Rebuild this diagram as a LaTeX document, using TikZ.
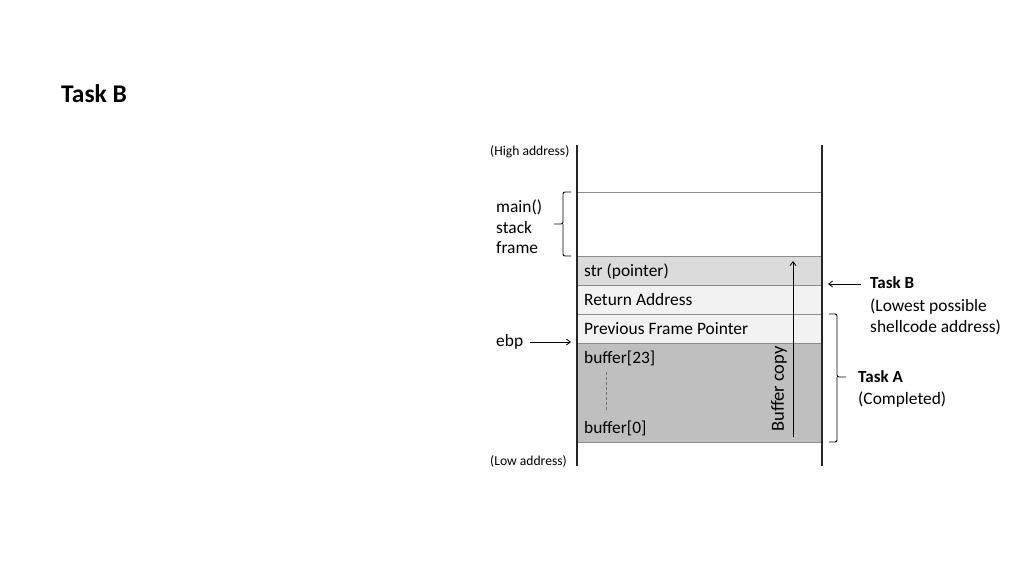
\documentclass[tikz,border=0pt]{standalone}
\usepackage{fontspec}
\setmainfont{Carlito}
\usetikzlibrary{arrows.meta}
\begin{document}
\begin{tikzpicture}[x=1pt,y=-1pt,
  txt/.style={inner sep=0pt,anchor=base west,font=\fontsize{17.4}{20}\selectfont},
  small/.style={inner sep=0pt,anchor=base west,font=\fontsize{13.6}{16}\selectfont},
  bold/.style={inner sep=0pt,anchor=base west,font=\fontsize{17}{20}\selectfont\bfseries},
  sep/.style={draw=black!45,line width=0.9pt},
  wall/.style={draw=black!85,line width=1.3pt},
  arr/.style={-{Straight Barb[length=4pt,width=6pt]},line width=0.8pt},
  brc/.style={line width=0.9pt,rounded corners=2pt}]
\useasboundingbox (0,0) rectangle (1024,576);
% title
\node[inner sep=0pt,anchor=base west,font=\fontsize{25.5}{28}\selectfont\bfseries] (title) at (61,102) {Task B};
% rows
\fill[black!14] (577,256) rectangle (822,285);
\fill[black!5] (577,285) rectangle (822,343);
\fill[black!25] (577,343) rectangle (822,442);
\draw[sep] (577,192) -- (822,192);
\draw[sep] (577,256) -- (822,256);
\draw[sep] (577,285) -- (822,285);
\draw[sep] (577,314) -- (822,314);
\draw[sep] (577,343) -- (822,343);
\draw[sep] (577,442) -- (822,442);
\draw[wall] (577,145) -- (577,466);
\draw[wall] (822,145) -- (822,466);
% row texts
\node[txt] (str) at (584,276) {str (pointer)};
\node[txt] (ret) at (584,305) {Return Address};
\node[txt] (pfp) at (584,334) {Previous Frame Pointer};
\node[txt] (b23) at (584,363) {buffer[23]};
\node[txt] (b0) at (584,433) {buffer[0]};
\coordinate (d1) at (606,372);
\coordinate (d2) at (606,412);
\draw[black!55,densely dashed,line width=0.7pt] (d1) -- (d2);
% buffer copy arrow
\coordinate (bc1) at (793,437);
\coordinate (bc2) at (793,261);
\draw[arr] (bc1) -- (bc2);
\node[inner sep=0pt,rotate=90,font=\fontsize{18.5}{20}\selectfont] (bclabel) at (779,389) {Buffer copy};
% left labels
\node[small] (high) at (490,155) {(High address)};
\node[small] (low) at (490,465) {(Low address)};
\node[txt] (m1) at (496,212) {main()};
\node[txt] (m2) at (496,233) {stack};
\node[txt] (m3) at (496,253) {frame};
\draw[brc] (571,192) -- (563,192) -- (563,224) -- (554,224);
\draw[brc] (571,256) -- (563,256) -- (563,224);
\node[txt] (ebp) at (496,346) {ebp};
\coordinate (ebpt) at (571,342);
\draw[arr] (530,342) -- (ebpt);
% right labels
\node[bold] (tb) at (870,288) {Task B};
\node[txt] (tb1) at (870,311) {(Lowest possible};
\node[txt] (tb2) at (870,332) {shellcode address)};
\coordinate (tbt) at (828,284);
\draw[arr] (861,284) -- (tbt);
\draw[brc] (829,314) -- (837,314) -- (837,377) -- (846,377);
\draw[brc] (829,442) -- (837,442) -- (837,377);
\node[bold] (ta) at (858,382) {Task A};
\node[txt] (ta1) at (858,404) {(Completed)};
\end{tikzpicture}
\end{document}
